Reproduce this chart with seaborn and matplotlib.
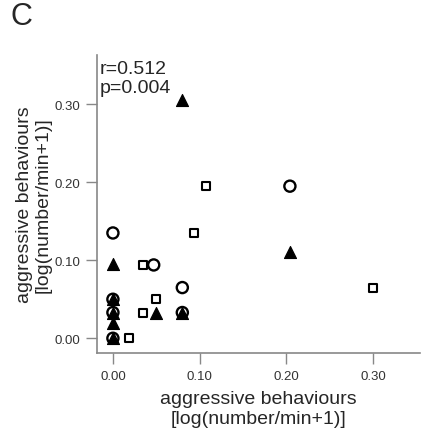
import matplotlib
matplotlib.use("Agg")
import matplotlib.pyplot as plt
import seaborn as sns
import pandas as pd

# data (x, y per marker group)
circle_x = [0.000, 0.047, 0.080, 0.204, 0.000, 0.000, 0.000, 0.080]
circle_y = [0.135, 0.094, 0.065, 0.195, 0.050, 0.033, 0.000, 0.033]
square_x = [0.035, 0.094, 0.050, 0.035, 0.018, 0.107, 0.300]
square_y = [0.094, 0.135, 0.050, 0.033, 0.000, 0.195, 0.064]
triangle_x = [0.000, 0.000, 0.050, 0.080, 0.204, 0.000, 0.000, 0.000, 0.080]
triangle_y = [0.095, 0.019, 0.033, 0.305, 0.110, 0.050, 0.033, 0.000, 0.033]
ticks = [0.00, 0.10, 0.20, 0.30]
stats_text = "r=0.512\np=0.004"
axis_label = "aggressive behaviours\n[log(number/min+1)]"

sns.set_style("ticks")
plt.rcParams["font.family"] = ["Liberation Sans", "DejaVu Sans"]

fig = plt.figure(figsize=(4.23, 4.35), dpi=100)
ax = fig.add_axes([0.229, 0.186, 0.764, 0.685])

circles = pd.DataFrame({"x": circle_x, "y": circle_y})
squares = pd.DataFrame({"x": square_x, "y": square_y})
triangles = pd.DataFrame({"x": triangle_x, "y": triangle_y})

# filled triangles first, open circles over them (overlaps look like dark blobs)
sns.scatterplot(data=triangles, x="x", y="y", marker="^", s=75, color="black",
                edgecolor="black", linewidth=0.8, legend=False, ax=ax, zorder=3)
sns.scatterplot(data=circles, x="x", y="y", marker="o", s=64, facecolor="none",
                edgecolor="black", linewidth=1.7, legend=False, ax=ax, zorder=4)
sns.scatterplot(data=squares, x="x", y="y", marker="s", s=32, facecolor="white",
                edgecolor="black", linewidth=1.5, legend=False, ax=ax, zorder=4)

ax.set_xlim(-0.0185, 0.354)
ax.set_ylim(-0.019, 0.363)
ax.set_xticks(ticks)
ax.set_yticks(ticks)
ax.set_xticklabels([f"{t:.2f}" for t in ticks])
ax.set_yticklabels([f"{t:.2f}" for t in ticks])
ax.tick_params(length=8, width=1, color="#888888", labelsize=9.5,
               labelcolor="#333333", pad=4)
sns.despine(ax=ax)
for side in ["left", "bottom"]:
    ax.spines[side].set_color("#888888")
    ax.spines[side].set_linewidth(1.2)

ax.set_xlabel(axis_label, fontsize=14, linespacing=1.2, labelpad=6)
ax.set_ylabel(axis_label, fontsize=14, linespacing=1.15, labelpad=2)

ax.text(0.008, 0.985, stats_text, transform=ax.transAxes, fontsize=14,
        va="top", ha="left", linespacing=1.15)
fig.text(0.025, 0.995, "C", fontsize=22, va="top", ha="left")

fig.savefig("out.png", dpi=100)
